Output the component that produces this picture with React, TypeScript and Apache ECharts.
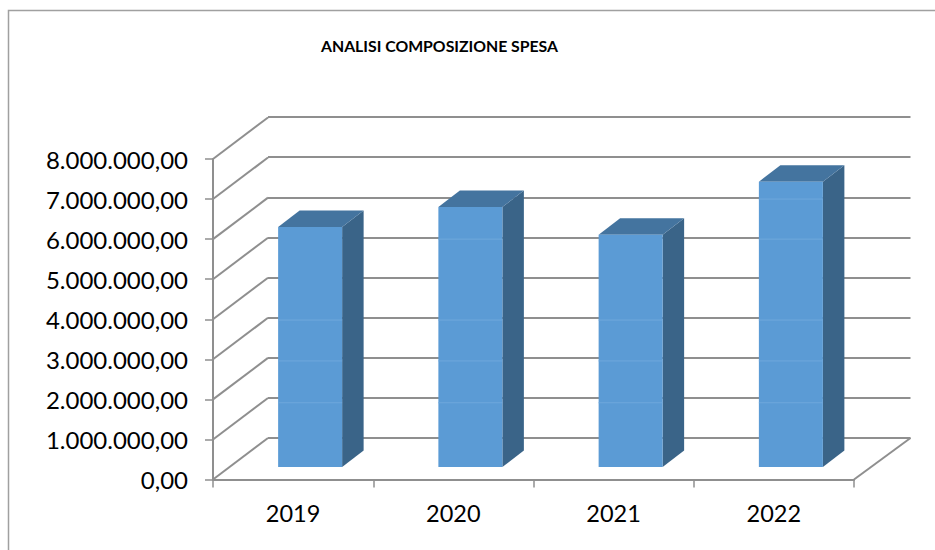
import React, { useEffect, useRef } from "react";
import * as echarts from "echarts";

const titleText = "ANALISI COMPOSIZIONE SPESA";
const categories = ["2019", "2020", "2021", "2022"];
const spesa = [5990000, 6490000, 5800000, 7120000];
const yTickValues = [0, 1000000, 2000000, 3000000, 4000000, 5000000, 6000000, 7000000, 8000000];
const yTickLabels = [
  "0,00",
  "1.000.000,00",
  "2.000.000,00",
  "3.000.000,00",
  "4.000.000,00",
  "5.000.000,00",
  "6.000.000,00",
  "7.000.000,00",
  "8.000.000,00",
];
// faint horizontal seams visible across the bars in the picture (axis units)
const barSeams = [1915000, 2960000, 3980000, 6000000, 7000000];

const LINE = "#8f8f8f";
const FONT = "Lato, Carlito, Calibri, sans-serif";
const WALL_DX = 55;
const WALL_DY = -41.5;
const BAR_SHIFT_X = 17;
const BAR_SHIFT_Y = -12.5;
const BAR_W = 64;
const BAR_DX = 21.5;
const BAR_DY = -16.5;

export default function App() {
  const ref = useRef<HTMLDivElement>(null);
  useEffect(() => {
    const chart = echarts.init(ref.current!, null, { renderer: "svg" });
    chart.setOption({
      animation: false,
      backgroundColor: "#ffffff",
      title: {
        text: titleText,
        left: 316,
        top: 32,
        textStyle: { fontFamily: FONT, fontSize: 15.8, fontWeight: "bold", color: "#000000" },
      },
      graphic: [
        {
          type: "polyline",
          silent: true,
          shape: { points: [[8.5, 550], [8.5, 10.5], [935, 10.5]] },
          style: { stroke: "#a0a0a0", lineWidth: 1.5, fill: "none" },
        },
      ],
      grid: [
        { left: 213, top: 159, width: 641, height: 320.5 },
        { left: 268, top: 117, width: 642.5, height: 321 },
      ],
      xAxis: [
        {
          type: "category",
          gridIndex: 0,
          data: categories,
          axisLine: { lineStyle: { color: LINE, width: 2 } },
          axisTick: { show: true, length: 8, lineStyle: { color: LINE, width: 1.5 } },
          axisLabel: { fontFamily: FONT, fontSize: 23.5, color: "#000000", margin: 21 },
          splitLine: { show: false },
        },
        { type: "category", gridIndex: 1, data: categories, show: false },
      ],
      yAxis: [
        {
          type: "value",
          gridIndex: 0,
          min: 0,
          max: 8000000,
          interval: 1000000,
          axisLine: { show: true, lineStyle: { color: LINE, width: 2 } },
          axisTick: { show: true, length: 8, lineStyle: { color: LINE, width: 1.5 } },
          axisLabel: {
            fontFamily: FONT,
            fontSize: 24,
            color: "#000000",
            margin: 25,
            formatter: (v: number) => yTickLabels[yTickValues.indexOf(v)],
          },
          splitLine: { show: false },
        },
        {
          type: "value",
          gridIndex: 1,
          min: 0,
          max: 8000000,
          interval: 1000000,
          axisLine: { show: false },
          axisTick: { show: false },
          axisLabel: { show: false },
          splitLine: { show: true, lineStyle: { color: LINE, width: 2 } },
        },
      ],
      series: [
        {
          type: "custom",
          name: "pareti",
          xAxisIndex: 0,
          yAxisIndex: 0,
          silent: true,
          clip: false,
          z: 1,
          data: yTickValues.map((v) => [0, v]),
          encode: { x: 0, y: 1 },
          renderItem: (params: any, api: any) => {
            const y = api.coord([0, api.value(1)])[1];
            const x = params.coordSys.x;
            const style = { stroke: LINE, lineWidth: 2, fill: "none" };
            const left = {
              type: "line",
              shape: { x1: x, y1: y, x2: x + WALL_DX, y2: y + WALL_DY },
              style,
            };
            if (api.value(1) !== 0) return left;
            const xr = x + params.coordSys.width;
            return {
              type: "group",
              children: [
                left,
                {
                  type: "line",
                  shape: { x1: xr, y1: y, x2: xr + WALL_DX + 1.5, y2: y + WALL_DY },
                  style,
                },
              ],
            };
          },
        },
        {
          type: "custom",
          name: "Spesa",
          xAxisIndex: 0,
          yAxisIndex: 0,
          silent: true,
          clip: false,
          z: 5,
          data: spesa.map((v, i) => [i, v]),
          encode: { x: 0, y: 1 },
          renderItem: (_params: any, api: any) => {
            const idx = api.value(0);
            const val = api.value(1);
            const top = api.coord([idx, val]);
            const base = api.coord([idx, 0]);
            const x0 = top[0] + BAR_SHIFT_X - BAR_W / 2;
            const x1 = x0 + BAR_W;
            const yt = top[1] + BAR_SHIFT_Y;
            const yb = base[1] + BAR_SHIFT_Y;
            const seams = barSeams
              .filter((s) => s < val)
              .map((s) => {
                const sy = api.coord([idx, s])[1];
                return {
                  type: "line",
                  shape: { x1: x0, y1: sy, x2: x1, y2: sy },
                  style: { stroke: "#6fa8dc", lineWidth: 1 },
                };
              });
            return {
              type: "group",
              children: [
                {
                  type: "polygon",
                  shape: {
                    points: [
                      [x1, yt],
                      [x1 + BAR_DX, yt + BAR_DY],
                      [x1 + BAR_DX, yb + BAR_DY],
                      [x1, yb],
                    ],
                  },
                  style: { fill: "#3a6488" },
                },
                {
                  type: "polygon",
                  shape: {
                    points: [
                      [x0, yt],
                      [x0 + BAR_DX, yt + BAR_DY],
                      [x1 + BAR_DX, yt + BAR_DY],
                      [x1, yt],
                    ],
                  },
                  style: { fill: "#44749f" },
                },
                {
                  type: "rect",
                  shape: { x: x0, y: yt, width: BAR_W, height: yb - yt },
                  style: { fill: "#5b9bd5" },
                },
                ...seams,
              ],
            };
          },
        },
      ],
    });
    return () => chart.dispose();
  }, []);
  return (
    <div
      ref={ref}
      style={{ position: "absolute", left: 0, top: 0, width: 935, height: 550 }}
    />
  );
}
